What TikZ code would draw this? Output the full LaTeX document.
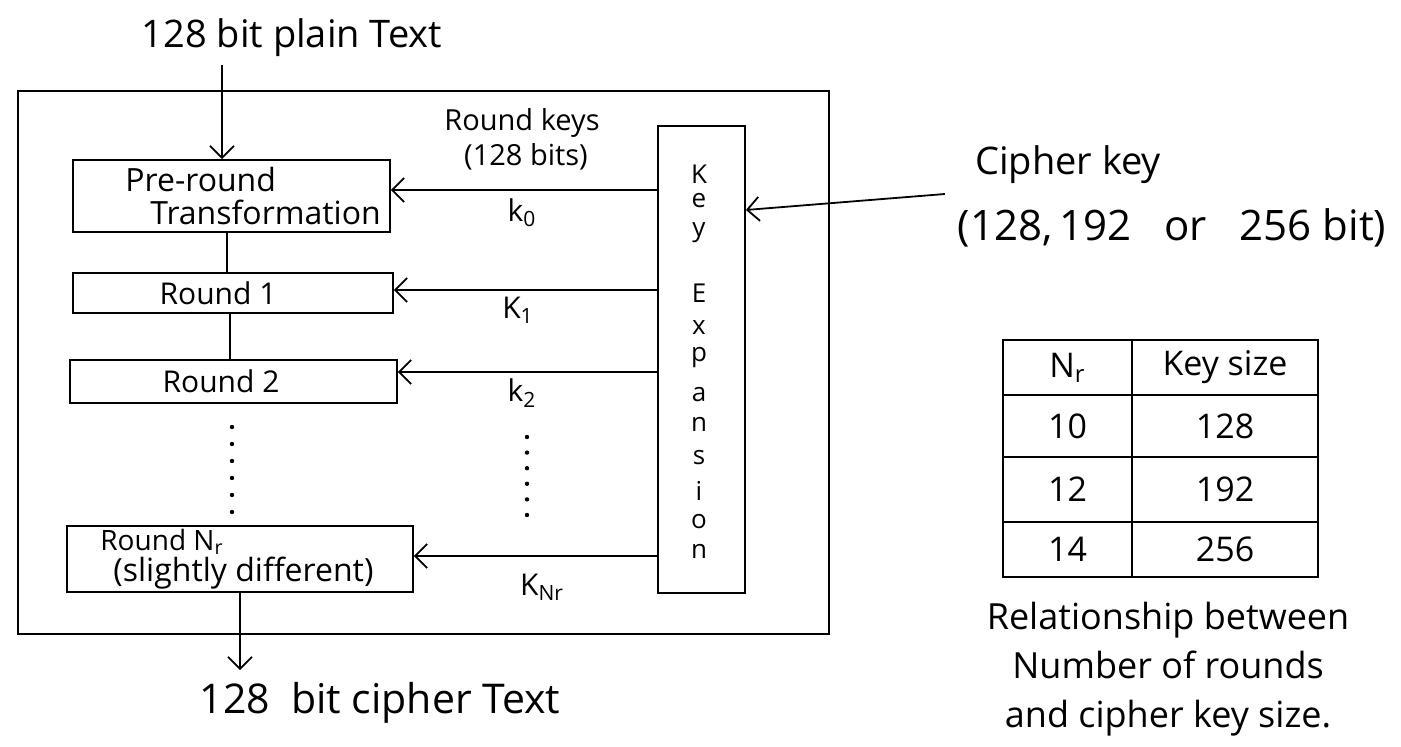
\documentclass[tikz,border=0pt]{standalone}
\usepackage{fontspec}
\setmainfont{Open Sans}
\usetikzlibrary{arrows.meta,calc}
\newcommand\fsz[1]{\fontsize{#1}{#1}\selectfont}
\begin{document}
\begin{tikzpicture}[x=0.5pt,y=-0.5pt,
  box/.style={draw, line width=0.9pt, inner sep=0pt},
  lbl/.style={inner sep=0pt, anchor=center},
  ln/.style={line width=0.9pt},
  arr/.style={line width=0.9pt, -{Straight Barb[length=6pt,width=12pt,line width=0.9pt]}},
  dotline/.style={line width=2.2pt, line cap=round, dash pattern=on 0pt off 8.5pt},
  cell/.style={draw, line width=0.9pt, inner sep=0pt, font=\fsz{17}}
]
\useasboundingbox (0,0) rectangle (1401,747);

% texts outside
\node[lbl, font=\fsz{19}] (plain) at (292,38) {128 bit plain Text};
\node[lbl, font=\fsz{20.5}] (cout) at (380,703) {128\ \ bit cipher Text};

% outer frame
\node[box, minimum width=405.5pt, minimum height=271.5pt] (outer) at (423.5,362.5) {};

% round boxes
\node[box, minimum width=158.5pt, minimum height=36pt] (pre) at (231.5,196) {};
\node[lbl, anchor=west, font=\fsz{16}] (pret1) at (125,180) {Pre-round};
\node[lbl, anchor=west, font=\fsz{16}] (pret2) at (150,212) {Transformation};

\node[box, minimum width=160pt, minimum height=20pt] (r1) at (233,293) {};
\node[lbl, font=\fsz{15}] (r1t) at (218,293) {Round 1};

\node[box, minimum width=163.5pt, minimum height=21.5pt] (r2) at (233.5,381.5) {};
\node[lbl, font=\fsz{15}] (r2t) at (221,381) {Round 2};

\node[box, minimum width=173pt, minimum height=33pt] (rnr) at (240,559) {};
\node[lbl, anchor=west, font=\fsz{14}] (rnrt1) at (100,542) {Round N\textsubscript{r}};
\node[lbl, anchor=west, font=\fsz{16}] (rnrt2) at (113,573) {(slightly different)};

% key expansion
\node[box, minimum width=43.5pt, minimum height=233.5pt] (key) at (701.5,359.5) {};
\foreach \l/\y [count=\i] in {K/174,e/201,y/233,E/293,x/328,p/358,a/395,n/424,s/458,i/491,o/522,n/551}
  \node[lbl, font=\fsz{13}] (kl\i) at (699,\y) {\l};

% round key labels
\node[lbl, font=\fsz{14.5}] (rk1) at (522,123) {Round keys};
\node[lbl, font=\fsz{14.5}] (rk2) at (526,157) {(128 bits)};
\node[lbl, font=\fsz{15}] (k0) at (522,213) {k\textsubscript{0}};
\node[lbl, font=\fsz{15}] (k1) at (518,310) {K\textsubscript{1}};
\node[lbl, font=\fsz{15}] (k2) at (522,393) {k\textsubscript{2}};
\node[lbl, font=\fsz{15}] (knr) at (542,587) {K\textsubscript{Nr}};

% connectors
\coordinate (xa) at (222,0);
\coordinate (xb) at (227,0);
\coordinate (xc) at (230,0);
\coordinate (xe) at (240,0);
\draw[arr, shorten <=4pt] (xa |- plain.south) -- (xa |- pre.north);
\draw[ln] (xb |- pre.south) -- (xb |- r1.north);
\draw[ln] (xc |- r1.south) -- (xc |- r2.north);
\draw[dotline] (232,427) -- (232,512);
\draw[arr, shorten >=6pt] (xe |- rnr.south) -- (xe |- cout.north);

\coordinate (ya) at (0,190);
\coordinate (yb) at (0,290);
\coordinate (yc) at (0,372);
\coordinate (yd) at (0,556);
\draw[arr] (key.west |- ya) -- (pre.east |- ya);
\draw[arr] (key.west |- yb) -- (r1.east |- yb);
\draw[arr] (key.west |- yc) -- (r2.east |- yc);
\draw[arr] (key.west |- yd) -- (rnr.east |- yd);
\draw[dotline, dash pattern=on 0pt off 7.8pt] (527,437) -- (527,515);

% cipher key
\node[lbl, font=\fsz{19}] (ck1) at (1068,165) {Cipher key};
\node[lbl, font=\fsz{21}] (ck2) at (1172,228) {(128,\,192\ \ \ or\ \ \ 256\ bit)};
\coordinate (cs) at (945,194);
\coordinate (ce) at (0,210);
\draw[arr] (cs) -- (key.east |- ce);

% table
\node[cell, minimum width=64.5pt, minimum height=27.5pt] (t11) at (1067.5,367.5) {N\textsubscript{r}};
\node[cell, minimum width=93pt, minimum height=27.5pt] (t12) at (1225,367.5) {Key size};
\node[cell, minimum width=64.5pt, minimum height=31pt] (t21) at (1067.5,426) {10};
\node[cell, minimum width=93pt, minimum height=31pt] (t22) at (1225,426) {128};
\node[cell, minimum width=64.5pt, minimum height=32.5pt] (t31) at (1067.5,489.5) {12};
\node[cell, minimum width=93pt, minimum height=32.5pt] (t32) at (1225,489.5) {192};
\node[cell, minimum width=64.5pt, minimum height=27.5pt] (t41) at (1067.5,549.5) {14};
\node[cell, minimum width=93pt, minimum height=27.5pt] (t42) at (1225,549.5) {256};

% caption
\node[lbl, align=center, font=\fontsize{18}{24.5}\selectfont] (cap) at (1168,669) {Relationship between\\Number of rounds\\and cipher key size.};
\end{tikzpicture}
\end{document}
